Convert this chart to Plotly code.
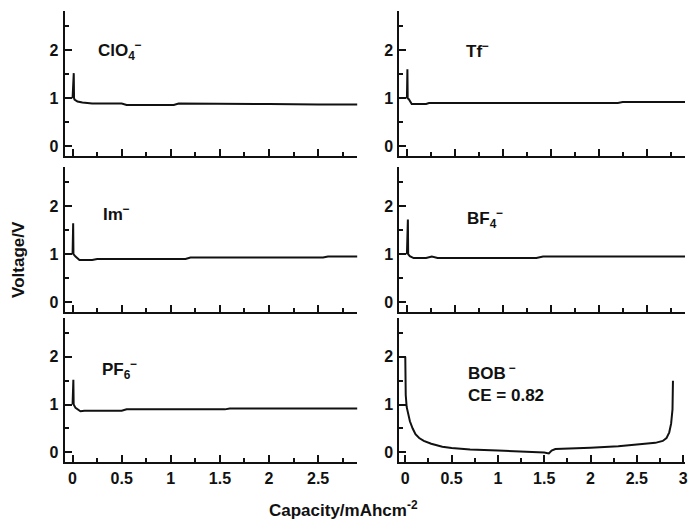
import plotly.graph_objects as go

# ---- data (capacity in mAh cm^-2, voltage in V) ----
clo4_cap = [0, 0.012, 0.015, 0.02, 0.05, 0.1, 0.2, 0.5, 0.55, 1.03, 1.08, 1.5, 2.0, 2.5, 2.9]
clo4_v = [1.0, 1.52, 1.0, 0.97, 0.93, 0.91, 0.89, 0.89, 0.86, 0.86, 0.89, 0.89, 0.88, 0.87, 0.87]

tf_cap = [0, 0.005, 0.008, 0.02, 0.05, 0.2, 0.23, 2.2, 2.25, 2.9]
tf_v = [1.0, 1.6, 1.0, 0.98, 0.88, 0.88, 0.90, 0.90, 0.92, 0.92]

im_cap = [0, 0.006, 0.009, 0.03, 0.07, 0.2, 0.25, 1.15, 1.2, 2.55, 2.6, 2.9]
im_v = [1.0, 1.64, 1.0, 0.95, 0.88, 0.88, 0.90, 0.90, 0.93, 0.93, 0.95, 0.95]

bf4_cap = [0, 0.01, 0.013, 0.03, 0.07, 0.2, 0.26, 0.32, 0.5, 1.35, 1.42, 2.9]
bf4_v = [1.0, 1.72, 1.0, 0.96, 0.92, 0.92, 0.95, 0.92, 0.92, 0.92, 0.95, 0.95]

pf6_cap = [0, 0.008, 0.011, 0.03, 0.08, 0.12, 0.5, 0.55, 1.55, 1.6, 2.9]
pf6_v = [1.0, 1.52, 1.0, 0.93, 0.86, 0.87, 0.87, 0.90, 0.90, 0.92, 0.92]

bob_cap = [0, 0.005, 0.015, 0.03, 0.05, 0.08, 0.11, 0.15, 0.2, 0.28, 0.4, 0.5, 0.7, 1.0,
           1.3, 1.5, 1.55, 1.58, 1.62, 1.8, 2.0, 2.3, 2.5, 2.7, 2.78, 2.82, 2.85, 2.87, 2.885, 2.89]
bob_v = [2.0, 1.2, 0.95, 0.8, 0.65, 0.5, 0.38, 0.3, 0.24, 0.18, 0.12, 0.09, 0.06, 0.04,
         0.02, 0.0, -0.02, 0.04, 0.07, 0.08, 0.10, 0.13, 0.16, 0.20, 0.24, 0.30, 0.42, 0.60, 0.90, 1.5]

panel_labels = ["ClO<sub>4</sub><sup>−</sup>", "Tf<sup>−</sup>", "Im<sup>−</sup>",
                "BF<sub>4</sub><sup>−</sup>", "PF<sub>6</sub><sup>−</sup>", "BOB<sup> −</sup>"]
ce_label = "CE = 0.82"
x_tickvals = [0, 0.5, 1, 1.5, 2, 2.5, 3]
x_ticktext = ["0", "0.5", "1", "1.5", "2", "2.5", "3"]
y_tickvals = [0, 1, 2]
y_ticktext = ["0", "1", "2"]

series = [(clo4_cap, clo4_v), (tf_cap, tf_v), (im_cap, im_v),
          (bf4_cap, bf4_v), (pf6_cap, pf6_v), (bob_cap, bob_v)]

W, H = 689, 523
FONT = "Liberation Sans, Arial, sans-serif"

# pixel geometry
col_px = [(65, 359), (401, 688)]
row_px = [(11, 155.5), (167, 311.5), (318, 461.5)]
label_pos = [(0.24, 2.0), (0.60, 2.0), (0.29, 1.86), (0.61, 1.75), (0.28, 1.74), (0.66, 1.68)]

fig = go.Figure()
layout = dict(width=W, height=H, margin=dict(l=0, r=0, t=0, b=0),
              paper_bgcolor="white", plot_bgcolor="white", showlegend=False)
annotations = []

for i, (xs, ys) in enumerate(series):
    r, c = divmod(i, 2)
    n = i + 1
    xa = "x" if n == 1 else f"x{n}"
    ya = "y" if n == 1 else f"y{n}"
    fig.add_trace(go.Scatter(x=xs, y=ys, mode="lines", xaxis=xa, yaxis=ya,
                             line=dict(color="#111111", width=2), hoverinfo="skip"))
    x0, x1 = col_px[c]
    y0, y1 = row_px[r]
    xrange = [-0.065, 3.02] if i == 5 else [-0.08, 2.9]
    bottom = (r == 2)
    layout["xaxis" if n == 1 else f"xaxis{n}"] = dict(
        domain=[x0 / W, x1 / W], range=xrange, anchor=ya,
        showline=True, linecolor="#111111", linewidth=2, showgrid=False, zeroline=False,
        ticks="inside", ticklen=7, tickwidth=2, tickcolor="#111111",
        tickvals=x_tickvals, ticktext=x_ticktext,
        minor=dict(ticks="inside", ticklen=4, tickwidth=2, tickcolor="#111111", dtick=0.25, tick0=0),
        showticklabels=bottom,
        tickfont=dict(family=FONT, size=16, color="#111111", weight="bold"),
        ticklabelstandoff=1,
        ticklabeloverflow="allow",
        fixedrange=True,
    )
    layout["yaxis" if n == 1 else f"yaxis{n}"] = dict(
        domain=[1 - y1 / H, 1 - y0 / H], range=[-0.19, 2.81], anchor=xa,
        showline=True, linecolor="#111111", linewidth=2, showgrid=False, zeroline=False,
        ticks="inside", ticklen=7, tickwidth=2, tickcolor="#111111",
        tickvals=y_tickvals, ticktext=y_ticktext,
        minor=dict(ticks="inside", ticklen=4, tickwidth=2, tickcolor="#111111", dtick=0.5, tick0=0),
        tickfont=dict(family=FONT, size=16, color="#111111", weight="bold"),
        ticklabelstandoff=1,
        fixedrange=True,
    )
    lx, ly = label_pos[i]
    annotations.append(dict(x=lx, y=ly, xref=xa, yref=ya, text=panel_labels[i],
                            showarrow=False, xanchor="left", yanchor="middle",
                            font=dict(family=FONT, size=17, color="#111111", weight="bold")))

annotations.append(dict(x=0.66, y=1.18, xref="x6", yref="y6", text=ce_label,
                        showarrow=False, xanchor="left", yanchor="middle",
                        font=dict(family=FONT, size=17, color="#111111", weight="bold")))
annotations.append(dict(x=18 / W, y=1 - 259 / H, xref="paper", yref="paper",
                        text="Voltage/V", textangle=-90, showarrow=False,
                        xanchor="center", yanchor="middle",
                        font=dict(family=FONT, size=17, color="#111111", weight="bold")))
annotations.append(dict(x=345 / W, y=1 - 509 / H, xref="paper", yref="paper",
                        text="Capacity/mAhcm<sup>-2</sup>", showarrow=False,
                        xanchor="center", yanchor="middle",
                        font=dict(family=FONT, size=17, color="#111111", weight="bold")))
layout["annotations"] = annotations
fig.update_layout(**layout)
fig.write_html("out.html", config={"displayModeBar": False},
               post_script="document.body.style.margin='0';document.body.style.overflow='hidden';")
